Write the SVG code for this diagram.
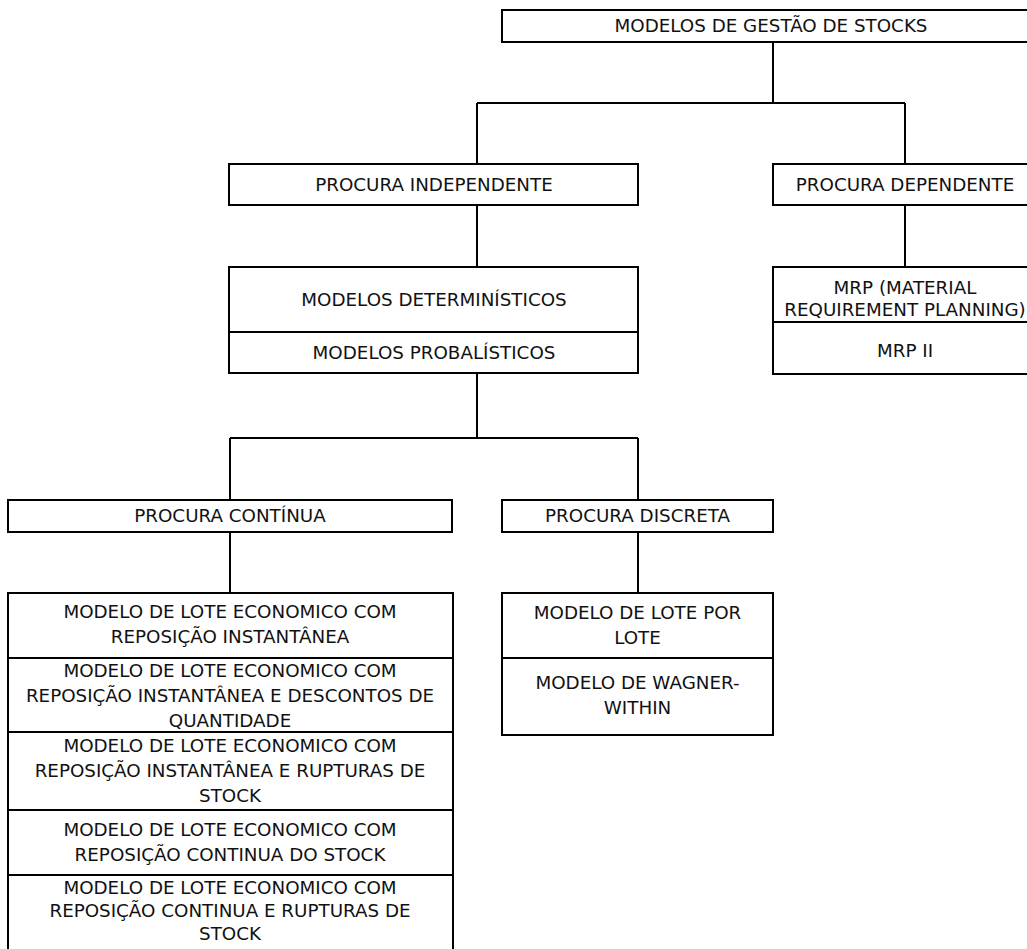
<svg xmlns="http://www.w3.org/2000/svg" width="1027" height="949" viewBox="0 0 1027 949">
<style>
.box{fill:#fff;stroke:#000;stroke-width:2}
.div{stroke:#000;stroke-width:2}
.con{stroke:#000;stroke-width:2;fill:none}
text{font-family:"DejaVu Sans",Verdana,sans-serif;font-size:18.3px;fill:#111;text-anchor:middle}
</style>
<rect width="1027" height="949" fill="#fff"/>
<g id="connectors">
<path class="con" d="M773,42V103M477,103H905M477,103V164M905,103V164"/>
<path class="con" d="M477,205V267M905,205V267"/>
<path class="con" d="M477,373V438M230,438H638M230,438V500M638,438V500"/>
<path class="con" d="M230,532V593M638,532V593"/>
</g>
<g id="n-root">
<rect class="box" x="502" y="10" width="542" height="32"/>
<text x="771" y="32">MODELOS DE GESTÃO DE STOCKS</text>
</g>
<g id="n-indep">
<rect class="box" x="229" y="164" width="409" height="41"/>
<text x="434" y="191">PROCURA INDEPENDENTE</text>
</g>
<g id="n-dep">
<rect class="box" x="773" y="164" width="264" height="41"/>
<text x="905" y="191">PROCURA DEPENDENTE</text>
</g>
<g id="n-models">
<rect class="box" x="229" y="267" width="409" height="106"/>
<line class="div" x1="229" y1="332" x2="638" y2="332"/>
<text x="434" y="306">MODELOS DETERMINÍSTICOS</text>
<text x="434" y="359">MODELOS PROBALÍSTICOS</text>
</g>
<g id="n-mrp">
<rect class="box" x="773" y="267" width="264" height="107"/>
<line class="div" x1="773" y1="322" x2="1037" y2="322"/>
<text x="905" y="294">MRP (MATERIAL</text>
<text x="905" y="316">REQUIREMENT PLANNING)</text>
<text x="905" y="357">MRP II</text>
</g>
<g id="n-cont">
<rect class="box" x="8" y="500" width="444" height="32"/>
<text x="230" y="522">PROCURA CONTÍNUA</text>
</g>
<g id="n-disc">
<rect class="box" x="502" y="500" width="271" height="32"/>
<text x="637.5" y="522">PROCURA DISCRETA</text>
</g>
<g id="n-cont-models">
<rect class="box" x="8" y="593" width="445" height="370"/>
<line class="div" x1="8" y1="658" x2="453" y2="658"/>
<line class="div" x1="8" y1="732" x2="453" y2="732"/>
<line class="div" x1="8" y1="810" x2="453" y2="810"/>
<line class="div" x1="8" y1="875" x2="453" y2="875"/>
<text x="230" y="618">MODELO DE LOTE ECONOMICO COM</text>
<text x="230" y="643">REPOSIÇÃO INSTANTÂNEA</text>
<text x="230" y="677">MODELO DE LOTE ECONOMICO COM</text>
<text x="230" y="702">REPOSIÇÃO INSTANTÂNEA E DESCONTOS DE</text>
<text x="230" y="727">QUANTIDADE</text>
<text x="230" y="752">MODELO DE LOTE ECONOMICO COM</text>
<text x="230" y="777">REPOSIÇÃO INSTANTÂNEA E RUPTURAS DE</text>
<text x="230" y="802">STOCK</text>
<text x="230" y="836">MODELO DE LOTE ECONOMICO COM</text>
<text x="230" y="861">REPOSIÇÃO CONTINUA DO STOCK</text>
<text x="230" y="894">MODELO DE LOTE ECONOMICO COM</text>
<text x="230" y="917">REPOSIÇÃO CONTINUA E RUPTURAS DE</text>
<text x="230" y="940">STOCK</text>
</g>
<g id="n-disc-models">
<rect class="box" x="502" y="593" width="271" height="142"/>
<line class="div" x1="502" y1="658" x2="773" y2="658"/>
<text x="637.5" y="619">MODELO DE LOTE POR</text>
<text x="637.5" y="644">LOTE</text>
<text x="637.5" y="689">MODELO DE WAGNER-</text>
<text x="637.5" y="714">WITHIN</text>
</g>
</svg>
